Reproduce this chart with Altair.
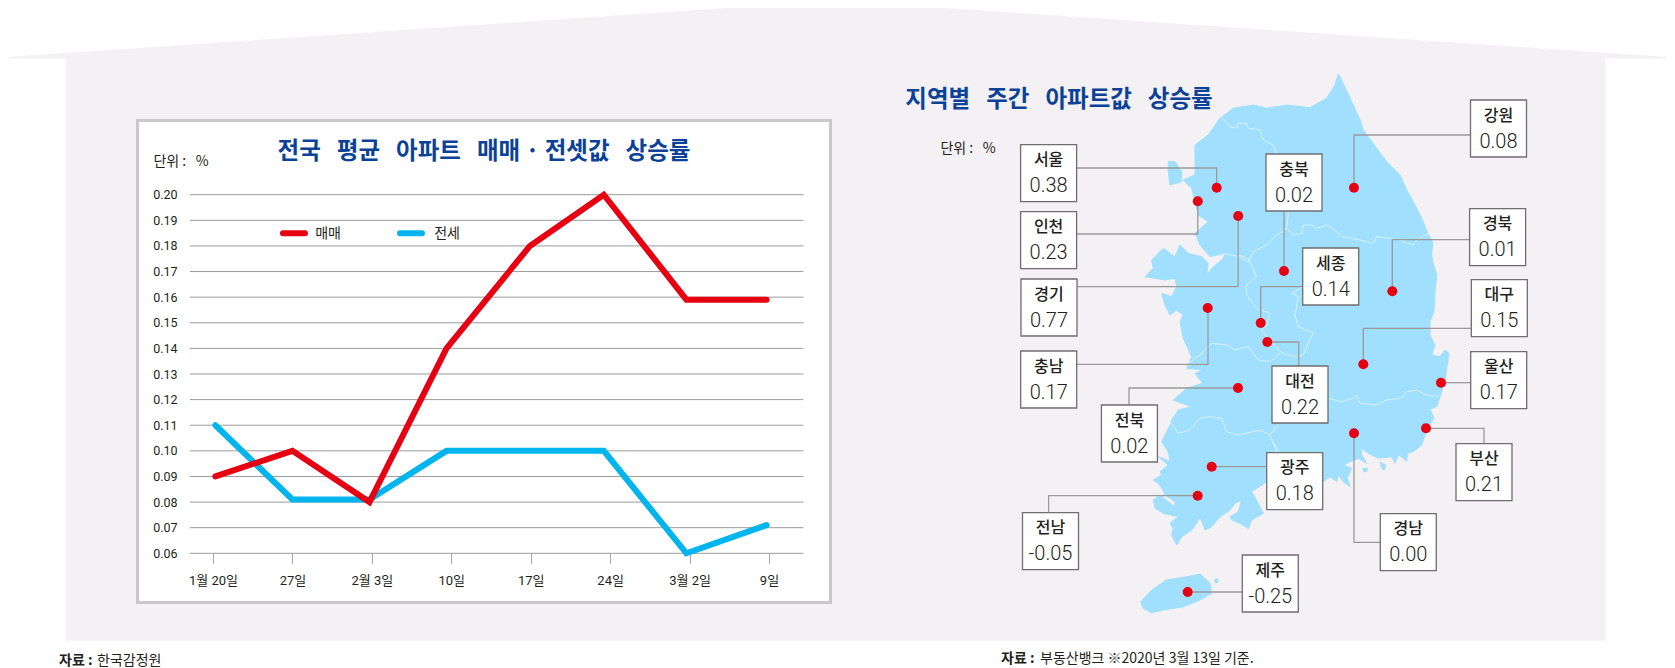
import altair as alt
import pandas as pd

# ---------- line chart values ----------
WEEKS = ["1월 20일", "27일", "2월 3일", "10일", "17일", "24일", "3월 2일", "9일"]
WEEK_POS = [0.03, 1.0, 1.97, 2.94, 3.99, 4.92, 5.96, 6.97]  # where the drawn line's vertices fall, in week steps
SALE = [0.09, 0.10, 0.08, 0.14, 0.18, 0.20, 0.159, 0.159]
JEONSE = [0.11, 0.081, 0.081, 0.10, 0.10, 0.10, 0.06, 0.071]
Y_TICKS = [0.06, 0.07, 0.08, 0.09, 0.10, 0.11, 0.12, 0.13, 0.14, 0.15, 0.16, 0.17, 0.18, 0.19, 0.20]

# ---------- map values ----------
REGIONS = ["서울", "인천", "경기", "충북", "강원", "경북", "세종", "대구", "대전", "충남", "울산", "전북", "광주", "부산", "전남", "경남", "제주"]
RATES = [0.38, 0.23, 0.77, 0.02, 0.08, 0.01, 0.14, 0.15, 0.22, 0.17, 0.17, 0.02, 0.18, 0.21, -0.05, 0.00, -0.25]

# label box (left, top), dot (x, y), connector corner points — page pixels
BOX_W, BOX_H = 56, 57
BOXES = [(1020.6, 144.7), (1020.6, 211.7), (1021, 279), (1266, 154), (1470.5, 100), (1469.6, 208.7), (1302.7, 248), (1471.3, 279.7),
         (1272, 366), (1020.7, 351), (1470.7, 351.7), (1101.4, 405), (1266.7, 452.7), (1456, 443.7), (1022.5, 512.7), (1380.3, 513.7), (1242.3, 555)]
DOTS = [(1216.7, 187.7), (1197.8, 201.3), (1238.2, 216), (1284, 271), (1354, 187.7), (1392.3, 291.3), (1260.7, 323), (1363.3, 364.3),
        (1267.3, 342), (1207.7, 308), (1441, 382.7), (1238, 388), (1211.7, 466.7), (1426, 428.3), (1197.7, 495.7), (1354, 433.3), (1187.7, 592)]
LINKS = [
    [(1076, 168), (1216.7, 168), (1216.7, 187)],
    [(1076, 234), (1197.8, 234), (1197.8, 201)],
    [(1077, 286.7), (1238.2, 286.7), (1238.2, 216)],
    [(1284, 211), (1284, 271)],
    [(1470, 135), (1354, 135), (1354, 187)],
    [(1469, 239.7), (1392.3, 239.7), (1392.3, 291)],
    [(1303, 286.7), (1260.7, 286.7), (1260.7, 323)],
    [(1471, 328.3), (1363.3, 328.3), (1363.3, 364)],
    [(1267.3, 342), (1298.7, 342), (1298.7, 366)],
    [(1076, 364.3), (1208, 364.3), (1208, 308)],
    [(1441, 382.7), (1471, 382.7)],
    [(1238, 388), (1129, 388), (1129, 405)],
    [(1211.7, 466.7), (1267, 466.7)],
    [(1426, 428.3), (1484, 428.3), (1484, 444)],
    [(1197.7, 495.7), (1048.6, 495.7), (1048.6, 513)],
    [(1354, 433.3), (1354, 542.3), (1380, 542.3)],
    [(1187.7, 592), (1242, 592)],
]

# Map outline, page pixels
MAINLAND = [(1338.3, 74), (1344, 85), (1351.7, 101.7), (1360, 120), (1363.3, 130), (1376.7, 148.3), (1386.7, 161.7), (1400, 175), (1406.7, 190),
    (1415, 205), (1421.7, 218.3), (1428.3, 235), (1432.7, 241.7), (1431.7, 255), (1432.7, 261.7), (1436.7, 275), (1435, 291.7), (1434, 311.7),
    (1430, 321.7), (1430, 335), (1435, 345), (1431.7, 355), (1440, 356.7), (1445, 350), (1449, 353.3), (1446.7, 368.3), (1445, 380), (1440.7, 395),
    (1436.7, 406.7), (1430, 409), (1434, 418.3), (1428.3, 426.7), (1425, 435), (1421.7, 445), (1413.3, 451.7), (1407.3, 453.3), (1406.7, 461.7),
    (1403, 458), (1398.3, 455), (1395, 463.3), (1391.7, 456.7), (1378.3, 458.3), (1368.3, 453.3), (1361.7, 448.3), (1361.7, 455), (1366.7, 463.3),
    (1358.3, 458.3), (1350, 461.7), (1343.3, 465), (1351.7, 468.3), (1347.3, 478.3), (1350, 486.7), (1343.3, 481.7), (1338.3, 475), (1336.7, 481.7),
    (1330, 476.7), (1323.3, 481.7), (1300, 478), (1280, 478), (1266.7, 481.7), (1251.7, 491.7), (1255, 497.3), (1263.3, 513.3), (1251.7, 520),
    (1248.3, 528.3), (1240, 523.3), (1231.7, 520), (1230, 516.7), (1238.3, 511.7), (1241.7, 500), (1235, 503.3), (1230, 510), (1220, 516.7),
    (1211.7, 526.7), (1205, 530), (1200, 516.7), (1196.7, 523.3), (1191.7, 530), (1181.7, 536.7), (1176.7, 545), (1171.7, 535), (1173.3, 528.3),
    (1170, 523.3), (1178.3, 516.7), (1163.3, 513.3), (1155, 508.3), (1153.3, 500), (1160, 495), (1170, 503.3), (1175, 506.7), (1175, 501.7),
    (1165, 495), (1163.3, 490.7), (1158.3, 483.3), (1153.3, 480), (1161.7, 475), (1160, 471.7), (1168.3, 465), (1158.3, 456.7), (1170, 461.7),
    (1168.3, 451.7), (1161.7, 441.7), (1170, 425), (1171.7, 420), (1178.3, 410), (1191.7, 406.7), (1173.3, 400), (1186.7, 388.3), (1202.7, 383.3),
    (1195, 373.3), (1203.3, 370), (1186.7, 368.3), (1191.7, 356.7), (1183.3, 338.3), (1180, 321.7), (1183.3, 315), (1176.7, 310), (1170, 315),
    (1165, 305), (1161.7, 293.3), (1171.7, 296.7), (1176.7, 286.7), (1175, 278.3), (1165, 280), (1155, 278.3), (1145, 276.7), (1153.3, 268.3),
    (1151.7, 260), (1163.3, 248.3), (1175, 256.7), (1180, 245), (1188.3, 253.3), (1201.7, 256.7), (1208.3, 263.3), (1206.7, 275), (1211.7, 268.3),
    (1223.3, 258.3), (1225, 253.3), (1210, 256.7), (1200, 245), (1195, 233.3), (1208.3, 221.7), (1198.3, 215), (1191.7, 188.3), (1183.3, 180),
    (1195, 175), (1195, 145), (1208.3, 135), (1220, 118.3), (1233.3, 108.3), (1253.3, 105), (1266.7, 108.3), (1286.7, 105), (1310, 107.7),
    (1326.7, 98.3), (1335, 85)]
GANGHWA = [(1168.3, 161.7), (1175, 161.7), (1181.7, 171.7), (1181.7, 181.7), (1170, 185), (1168.3, 171.7)]
JEJU = [(1140.7, 601.7), (1151.7, 590), (1166.7, 580), (1186.7, 576.7), (1200, 574), (1210, 583.3), (1211.7, 593.3), (1200, 600), (1183.3, 606.7),
    (1163.3, 610), (1151.7, 612.7), (1143.3, 608.3)]
ISLE_A = [(1214.5, 580), (1217, 578.5), (1218, 582), (1215.5, 583)]
ISLE_B = [(1363, 468.5), (1367, 468), (1367, 471), (1364, 472)]
ISLE_C = [(1380, 462), (1386, 465), (1384, 470), (1382, 469)]

def from_crop(ox, oy, pts):
    return [(ox + a / 3, oy + b / 3) for a, b in pts]

BORDERS = [
    from_crop(1120, 65, [(305, 155), (330, 185), (350, 190), (355, 175), (380, 175), (385, 190), (420, 195), (430, 225), (460, 240), (470, 265), (505, 445),
        (500, 490), (520, 510), (545, 505), (550, 480), (575, 480), (590, 490), (620, 480), (650, 500), (665, 515), (720, 525), (760, 535), (770, 515),
        (810, 520), (840, 525), (880, 540), (890, 525), (925, 505)]),
    from_crop(1120, 65, [(500, 490), (470, 510), (440, 540), (400, 560), (385, 590), (355, 575), (310, 565)]),
    from_crop(1120, 255, [(355, 0), (385, 10), (410, 65), (380, 90), (380, 120), (410, 160), (450, 175), (440, 210), (425, 225), (470, 280), (490, 295),
        (530, 305), (550, 300), (570, 250), (580, 235), (535, 215), (525, 180), (535, 125), (515, 115), (548, 95)]),
    from_crop(1120, 255, [(205, 325), (240, 300), (275, 265), (320, 270), (345, 285), (385, 275), (415, 315), (450, 320), (480, 295)]),
    from_crop(1120, 255, [(625, 430), (665, 440), (700, 430), (710, 420), (720, 445), (770, 450), (800, 435), (845, 430), (860, 410), (890, 405), (920, 420), (955, 425)]),
    from_crop(1120, 255, [(150, 500), (175, 535), (210, 525), (240, 490), (265, 485), (305, 490), (320, 530), (355, 540), (420, 525), (450, 540), (475, 510)]),
    from_crop(1120, 255, [(450, 540), (470, 590), (455, 600)]),
    from_crop(1120, 420, [(455, 60), (480, 100)]),
]

ROOF = [(0, 58), (66, 58), (66, 640), (1605, 640), (1605, 58), (1675, 58), (836, 1)]

WHITE, GREY_BG, SKY, RED, BLUE, NAVY, INK = "#ffffff", "#f3f1f4", "#a0dffe", "#e60012", "#00b4ee", "#0b4298", "#231f20"
KR = "Noto Sans CJK KR"
LATIN = "Roboto"

# Page-pixel scales: the page margin is 8 px
W, H = 1659, 660
PX = alt.Scale(domain=[8, 8 + W], range=[0, W], nice=False, zero=False)
PY = alt.Scale(domain=[8, 8 + H], range=[0, H], nice=False, zero=False)
def X(f="x"): return alt.X(f"{f}:Q", scale=PX, axis=None)
def Y(f="y"): return alt.Y(f"{f}:Q", scale=PY, axis=None)
def X2(f="x2"): return alt.X2(f"{f}:Q")
def Y2(f="y2"): return alt.Y2(f"{f}:Q")

def polys(items, fill):
    rows = [dict(k=k, i=i, x=p[0], y=p[1]) for k, pts in enumerate(items) for i, p in enumerate(pts)]
    return alt.Chart(pd.DataFrame(rows)).mark_line(interpolate="linear-closed", fill=fill, stroke=fill, strokeWidth=1).encode(
        x=X(), y=Y(), detail="k:N", order="i:Q")

def lines(items, color, width, **mk):
    rows = [dict(k=k, i=i, x=p[0], y=p[1]) for k, pts in enumerate(items) for i, p in enumerate(pts)]
    return alt.Chart(pd.DataFrame(rows)).mark_line(stroke=color, strokeWidth=width, **mk).encode(
        x=X(), y=Y(), detail="k:N", order="i:Q")

def text(rows, **mk):
    return alt.Chart(pd.DataFrame(rows, columns=["x", "y", "t"])).mark_text(baseline="middle", **mk).encode(x=X(), y=Y(), text="t:N")

def rects(rows, **mk):
    return alt.Chart(pd.DataFrame(rows, columns=["x", "y", "x2", "y2"])).mark_rect(**mk).encode(x=X(), y=Y(), x2=X2(), y2=Y2())

# ---------- line chart with its own scales ----------
df = pd.DataFrame({"week": WEEKS, "pos": WEEK_POS, "매매": SALE, "전세": JEONSE, "i": range(len(WEEKS))})
XS = alt.Scale(domain=WEEKS, range=[213 - 8, 769 - 8], padding=0)
XQ = alt.Scale(domain=[0, 7], range=[213 - 8, 769 - 8], nice=False, zero=False)
YS = alt.Scale(domain=[0.06, 0.20], range=[553.3 - 8, 194.7 - 8], nice=False, zero=False)
xaxis = alt.Axis(orient="bottom", offset=-(H - 545.3), domain=False, ticks=True, tickSize=10, tickColor="#a6a6a6", tickWidth=1, zindex=1,
                 labelAngle=0, labelFont=f"{LATIN}, {KR}", labelFontSize=13, labelColor=INK, labelPadding=11, grid=False, labelOverlap=False)
yaxis = alt.Axis(orient="left", offset=-(177 - 8 + 2), values=Y_TICKS, format=".2f", domain=False, ticks=False, grid=False, zindex=1,
                 labelFont=LATIN, labelFontSize=12.5, labelColor=INK, labelPadding=2, labelOverlap=False)
def yenc(f, axis=None):
    return alt.Y(f"{f}:Q", scale=YS, title=None, axis=axis)
xline = alt.X("pos:Q", scale=XQ, title=None, axis=None)

grid = alt.Chart(pd.DataFrame({"v": Y_TICKS})).mark_rule(stroke="#9b9b9b", strokeWidth=1).encode(
    y=yenc("v"), x=alt.value(189.8 - 8), x2=alt.value(803.4 - 8))
axes = alt.Chart(df).mark_point(opacity=0).encode(
    x=alt.X("week:N", scale=XS, sort=WEEKS, title=None, axis=xaxis), y=yenc("전세", yaxis))
blue = alt.Chart(df).mark_line(stroke=BLUE, strokeWidth=6, strokeCap="round", strokeJoin="miter").encode(x=xline, y=yenc("전세"), order="i:Q")
red = alt.Chart(df).mark_line(stroke=RED, strokeWidth=6, strokeCap="round", strokeJoin="miter").encode(x=xline, y=yenc("매매"), order="i:Q")

# ---------- map ----------
box_rows = [(b[0], b[1], b[0] + BOX_W, b[1] + BOX_H) for b in BOXES]
name_rows = [(b[0] + BOX_W / 2, b[1] + 15.6, n) for b, n in zip(BOXES, REGIONS)]
val_rows = [(b[0] + BOX_W / 2, b[1] + 41.5, f"{v:.2f}") for b, v in zip(BOXES, RATES)]
dots = alt.Chart(pd.DataFrame(DOTS, columns=["x", "y"])).mark_circle(size=100, color=RED, opacity=1).encode(x=X(), y=Y())

SP = "\u00a0\u00a0\u00a0"
UNIT = "단위\u00a0:\u00a0\u00a0\u00a0%"
layers = [
    polys([ROOF], GREY_BG),
    rects([(137.5, 120.5, 830.5, 602.5)], fill=WHITE, stroke="#c9c9c9", strokeWidth=3),
    grid, axes, blue, red,
    lines([[(283, 233.3), (305, 233.3)]], RED, 6, strokeCap="round"),
    lines([[(400, 233.3), (422, 233.3)]], BLUE, 6, strokeCap="round"),
    text([(328, 233.5, "매매"), (447, 233.5, "전세")], font=KR, fontSize=14, color=INK, align="center"),
    text([(484, 152, f"전국{SP}평균{SP}아파트{SP}매매\u00a0·\u00a0전셋값{SP}상승률"), (1059, 100, f"지역별{SP}주간{SP}아파트값{SP}상승률")],
         font=KR, fontSize=23.5, fontWeight="bold", color=NAVY, align="center"),
    text([(181, 162, UNIT), (968, 149, UNIT)], font=KR, fontSize=14, color=INK, align="center"),
    text([(59, 661, "자료 :"), (1001, 659, "자료 :")], font=KR, fontSize=14, fontWeight="bold", color=INK, align="left"),
    text([(97, 661, "한국감정원"), (1040, 659, "부동산뱅크 ※2020년 3월 13일 기준.")], font=KR, fontSize=14, color=INK, align="left"),
    polys([MAINLAND, GANGHWA, JEJU, ISLE_A, ISLE_B, ISLE_C], SKY),
    lines(BORDERS, "#dcf3ff", 0.9),
    lines(LINKS, "#9a9a9a", 1.3),
    dots,
    rects(box_rows, fill=WHITE, stroke="#6e6e6e", strokeWidth=1.3),
    text(name_rows, font=KR, fontSize=16, fontWeight=500, color=INK, align="center"),
    text(val_rows, font=LATIN, fontSize=20, fontWeight=300, color=INK, align="center"),
]

chart = alt.layer(*layers).resolve_scale(x="independent", y="independent").properties(
    width=W, height=H, padding=0, autosize=alt.AutoSizeParams(type="none"), background="#ffffff"
).configure_view(stroke=None)

chart.save("out.html", embed_options={"renderer": "svg", "actions": False})
